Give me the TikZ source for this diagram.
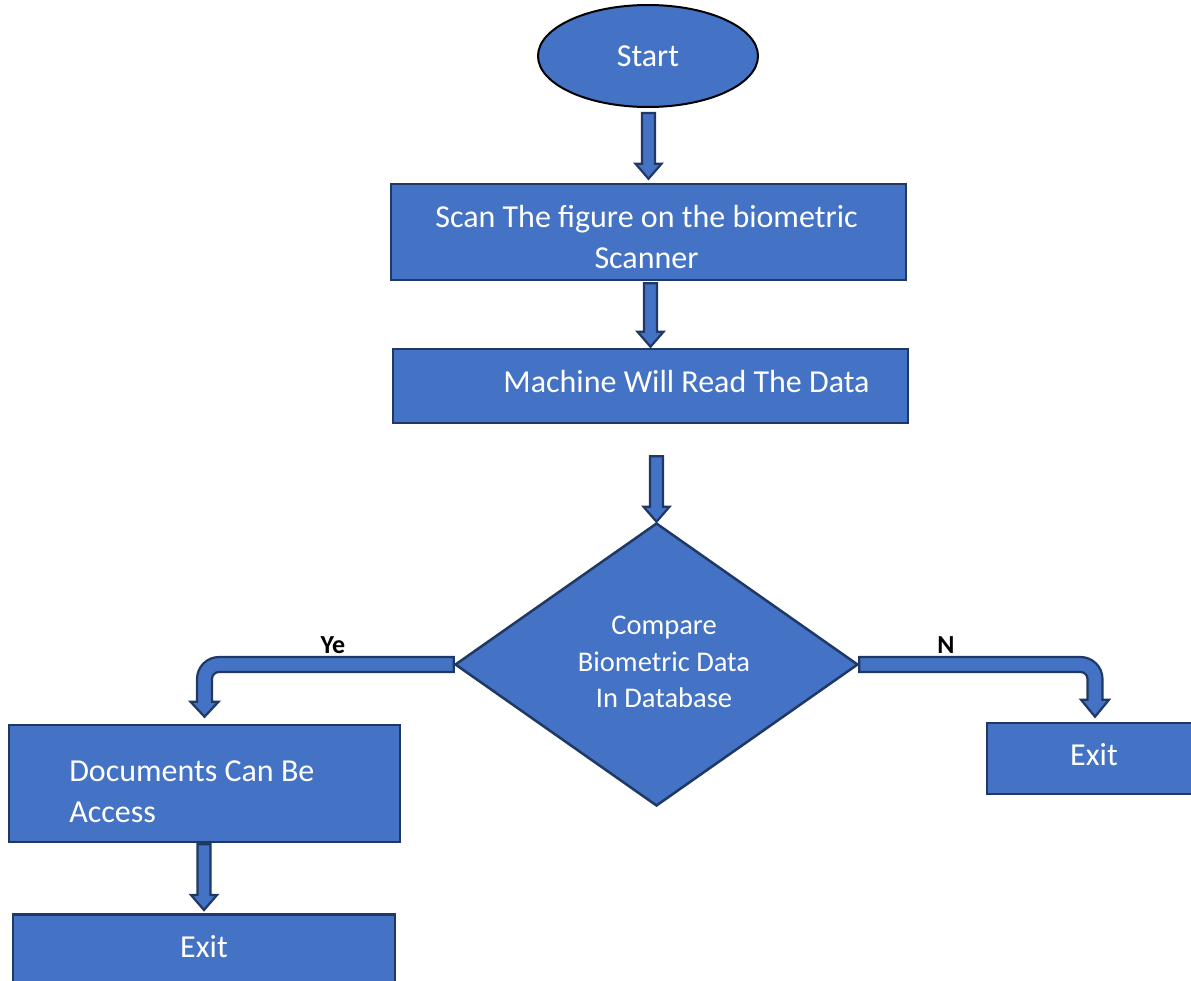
\documentclass[tikz,border=0pt]{standalone}
\usepackage{fontspec}
\setmainfont{Carlito}
\usetikzlibrary{shapes.geometric,calc}
\definecolor{fillb}{HTML}{4472C4}
\definecolor{edgeb}{HTML}{1F3864}
\newcommand\varrow[2]{\draw[barrow] let \p1=(#1), \p2=(#2) in (\x2-6.5pt,\y1) -- (\x2-6.5pt,\y2+15pt) -- (\x2-13pt,\y2+15pt) -- (\x2,\y2) -- (\x2+13pt,\y2+15pt) -- (\x2+6.5pt,\y2+15pt) -- (\x2+6.5pt,\y1) -- cycle;}
\begin{document}
\begin{tikzpicture}[x=1pt,y=-1pt,
 box/.style={draw=edgeb,fill=fillb,line width=2.5pt,inner sep=0pt,text=white,font=\fontsize{32}{41}\selectfont,align=center},
 wtext/.style={text=white,font=\fontsize{32}{41}\selectfont},
 barrow/.style={draw=edgeb,fill=fillb,line width=2.2pt,line join=miter},
 lbl/.style={font=\fontsize{26}{30}\selectfont\bfseries}]
\clip (0,0) rectangle (1191,980);
\node[box,ellipse,draw=black,line width=2pt,minimum width=220pt,minimum height=102pt] (start) at (648,56) {Start};
\node[box,minimum width=515pt,minimum height=96pt,label={[wtext,align=center,xshift=-2pt,yshift=-5pt]center:Scan The figure on the biometric\\Scanner}] (scan) at (648.5,232) {};
\node[box,minimum width=515pt,minimum height=74pt,label={[wtext,xshift=36pt,yshift=4pt]center:Machine Will Read The Data}] (machine) at (650.5,386) {};
\node[box,diamond,aspect=1.424,minimum width=403pt,minimum height=283pt] (dia) at (656.5,664.5) {};
\node[text=white,font=\fontsize{28.5}{36.5}\selectfont,align=center] (dtext) at (664,662) {Compare\\Biometric Data\\In Database};
\node[box,minimum width=391pt,minimum height=117pt,label={[wtext,anchor=west,align=left,xshift=58pt,yshift=-8.5pt]west:Documents Can Be\\Access}] (docs) at (204.5,783.5) {};
\node[box,minimum width=216pt,minimum height=71pt,label={[wtext,xshift=-1pt,yshift=3.5pt]center:Exit}] (rexit) at (1095,758.5) {};
\node[box,anchor=north,minimum width=382pt,minimum height=90pt,label={[wtext,yshift=13pt]center:Exit}] (bexit) at (204,913) {};
\varrow{$(start.south)+(0,5)$}{$(scan.north)+(0,-4)$}
\varrow{$(scan.south)+(0,2)$}{$(machine.north)+(0,-1)$}
\varrow{$(machine.south)+(0,32)$}{dia.north}
\varrow{$(docs.south)+(0,1)$}{$(bexit.north)+(0,-3)$}
\draw[barrow] let \p1=(dia.west), \p2=(docs.north) in (\x1,\y1+7.5pt) -- (\x2+14.5pt,\y1+7.5pt) arc[start angle=90,end angle=180,radius=22pt] -- (\x2-7.5pt,\y2+22pt) -- (\x2-14pt,\y2+22pt) -- (\x2,\y2+7pt) -- (\x2+14pt,\y2+22pt) -- (\x2+7.5pt,\y2+22pt) -- (\x2+7.5pt,\y1-14.5pt) arc[start angle=180,end angle=90,radius=7pt] -- (\x1,\y1-7.5pt) -- cycle;
\draw[barrow] let \p1=(dia.east), \p2=(rexit.north) in (\x1,\y1+7.5pt) -- (\x2-14.5pt,\y1+7.5pt) arc[start angle=90,end angle=0,radius=22pt] -- (\x2+7.5pt,\y2+22pt) -- (\x2+14pt,\y2+22pt) -- (\x2,\y2+5pt) -- (\x2-14pt,\y2+22pt) -- (\x2-7.5pt,\y2+22pt) -- (\x2-7.5pt,\y1-14.5pt) arc[start angle=0,end angle=90,radius=7pt] -- (\x1,\y1-7.5pt) -- cycle;
\node[lbl] (ye) at (333,645) {Ye};
\node[lbl] (no) at (946,645) {N};
\end{tikzpicture}
\end{document}
